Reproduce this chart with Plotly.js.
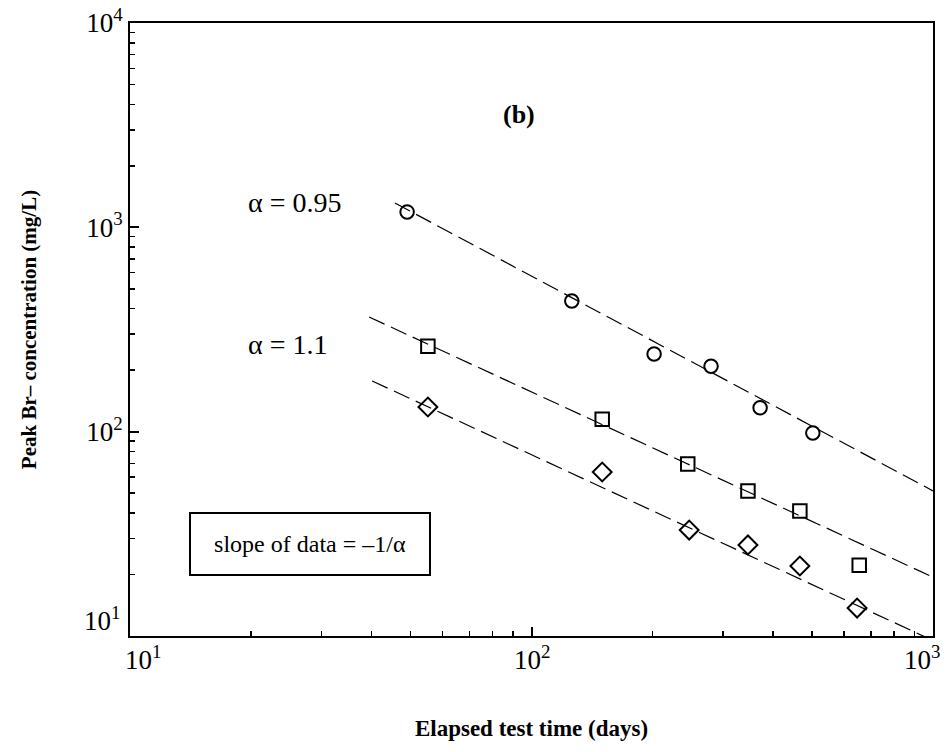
<!DOCTYPE html>
<html>
<head>
<meta charset="utf-8">
<script src="https://cdn.plot.ly/plotly-3.0.1.min.js"></script>
<style>html,body{margin:0;padding:0;background:#fff;}#chart{width:947px;height:752px;}</style>
</head>
<body>
<div id="chart"></div>
<script>
// Data (days, mg/L)
const circleDays = [49.0, 126, 202, 280, 371, 502];
const circleConc = [1190, 436, 240, 209, 131, 98.5];
const squareDays = [55.2, 150, 245, 346, 466, 655];
const squareConc = [262, 115, 69.5, 51.3, 40.9, 22.2];
const diamondDays = [55.2, 150, 247, 346, 466, 647];
const diamondConc = [132, 63.5, 33.0, 27.9, 22.0, 13.7];
// Fitted lines (slope = -1/alpha)
const fit095Days = [45.7, 1000];
const fit095Conc = [1315, 51.3];
const fit11aDays = [39.4, 1000];
const fit11aConc = [364, 19.4];
const fit11bDays = [40.1, 1000];
const fit11bConc = [177, 9.5];
// Tick labels
const xTickVals = [10, 100, 1000];
const xTickText = ['10<sup>1</sup>', '10<sup>2</sup>', '10<sup>3</sup>'];
const yTickVals = [10, 100, 1000, 10000];
const yTickText = ['', '10<sup>2</sup>', '10<sup>3</sup>', '10<sup>4</sup>'];

const serif = 'Liberation Serif, Times New Roman, serif';
const dashStyle = '17px,7px';
const tickFontSize = 27;

const traces = [
  {x: fit095Days, y: fit095Conc, mode: 'lines', line: {color: 'black', width: 1.2, dash: dashStyle}, hoverinfo: 'skip'},
  {x: fit11aDays, y: fit11aConc, mode: 'lines', line: {color: 'black', width: 1.2, dash: dashStyle}, hoverinfo: 'skip'},
  {x: fit11bDays, y: fit11bConc, mode: 'lines', line: {color: 'black', width: 1.2, dash: dashStyle}, hoverinfo: 'skip'},
  {x: circleDays, y: circleConc, mode: 'markers', marker: {symbol: 'circle-open', size: 13.5, color: 'black', line: {width: 2, color: 'black'}}},
  {x: squareDays, y: squareConc, mode: 'markers', marker: {symbol: 'square-open', size: 13.5, color: 'black', line: {width: 2, color: 'black'}}},
  {x: diamondDays, y: diamondConc, mode: 'markers', marker: {symbol: 'diamond-open', size: 14.5, color: 'black', line: {width: 2, color: 'black'}}}
];

const minorTicks = {ticks: 'inside', ticklen: 5, tickwidth: 1.5, tickcolor: 'black', dtick: 'D1', showgrid: false};
const axisCommon = {
  type: 'log',
  showgrid: false,
  zeroline: false,
  showline: true,
  linecolor: 'black',
  linewidth: 2,
  mirror: true,
  ticks: 'inside',
  ticklen: 9,
  tickwidth: 2,
  tickcolor: 'black',
  tickmode: 'array',
  ticklabeloverflow: 'allow',
  tickfont: {family: serif, size: tickFontSize, color: 'black'},
  minor: minorTicks
};
const overlayCommon = {
  type: 'log',
  showgrid: false,
  zeroline: false,
  showline: false,
  showticklabels: false,
  ticks: 'inside',
  ticklen: 9,
  tickwidth: 2,
  tickcolor: 'black',
  tickmode: 'array',
  minor: minorTicks
};

// x tick labels placed as annotations so the outer labels sit inside the figure like the original
const xLabelAnchors = ['left', 'center', 'right'];
const xLabelShift = [-7, 0, 9];
const xTickLabelAnnots = xTickVals.map((v, i) => ({
  xref: 'x', yref: 'paper', x: Math.log10(v), y: -0.0359, xanchor: xLabelAnchors[i], yanchor: 'middle',
  xshift: xLabelShift[i], text: xTickText[i], showarrow: false, font: {family: serif, size: tickFontSize, color: 'black'}
}));

const layout = {
  width: 947, height: 752,
  margin: {l: 130, r: 14, t: 23, b: 116},
  paper_bgcolor: 'white', plot_bgcolor: 'white',
  showlegend: false,
  font: {family: serif, color: 'black'},
  xaxis: Object.assign({}, axisCommon, {
    range: [1, 3], tickvals: xTickVals, ticktext: xTickText, showticklabels: false,
    title: {text: '<b>Elapsed test time (days)</b>', font: {family: serif, size: 23, color: 'black'}, standoff: 83}
  }),
  yaxis: Object.assign({}, axisCommon, {
    range: [1, 4], tickvals: yTickVals, ticktext: yTickText,
    title: {text: '<b>Peak Br– concentration (mg/L)</b>', font: {family: serif, size: 21, color: 'black'}, standoff: 44}
  }),
  xaxis2: Object.assign({}, overlayCommon, {range: [1, 3], overlaying: 'x', side: 'top', anchor: 'y', tickvals: xTickVals}),
  yaxis2: Object.assign({}, overlayCommon, {range: [1, 4], overlaying: 'y', side: 'right', anchor: 'x', tickvals: yTickVals}),
  annotations: xTickLabelAnnots.concat([
    {xref: 'paper', yref: 'paper', x: 0.484, y: 0.878, text: '<b>(b)</b>', showarrow: false, font: {family: serif, size: 26, color: 'black'}},
    {xref: 'x', yref: 'y', x: Math.log10(19.5), y: Math.log10(1330), text: 'α = 0.95', showarrow: false, xanchor: 'left', font: {family: serif, size: 28, color: 'black'}},
    {xref: 'x', yref: 'y', x: Math.log10(19.5), y: Math.log10(268), text: 'α = 1.1', showarrow: false, xanchor: 'left', font: {family: serif, size: 28, color: 'black'}},
    {xref: 'x', yref: 'y', x: Math.log10(14.03), y: Math.log10(28.3), text: 'slope of data = –1/α', showarrow: false, xanchor: 'left',
     font: {family: serif, size: 24, color: 'black'}, bordercolor: 'black', borderwidth: 2, borderpad: 0, width: 238, height: 60, bgcolor: 'white'},
    {xref: 'paper', yref: 'paper', x: -0.01, y: 0.027, xanchor: 'right', yanchor: 'middle', text: '10<sup>1</sup>', showarrow: false,
     font: {family: serif, size: tickFontSize, color: 'black'}}
  ])
};

Plotly.newPlot('chart', traces, layout, {displayModeBar: false, staticPlot: true});
</script>
</body>
</html>
